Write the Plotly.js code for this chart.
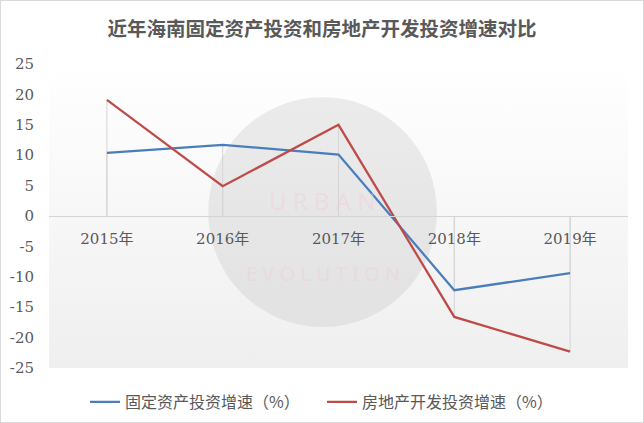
<!DOCTYPE html>
<html><head><meta charset="utf-8">
<script src="https://cdn.plot.ly/plotly-3.0.1.min.js"></script>
<style>
html,body{margin:0;padding:0;background:#fff;}
#wrap{position:relative;width:644px;height:423px;}
#chart{width:644px;height:423px;}
#frame{position:absolute;left:0;top:0;width:644px;height:423px;box-sizing:border-box;border:1px solid #d9d9d9;pointer-events:none;}
</style></head>
<body>
<div id="wrap"><div id="chart"></div><div id="frame"></div></div>
<script>
const categories = ['2015年','2016年','2017年','2018年','2019年'];
const fixedInvest = [10.4, 11.7, 10.1, -12.2, -9.4];
const realEstate = [19.1, 4.9, 15.0, -16.6, -22.3];
const seriesNames = ['固定资产投资增速（%）','房地产开发投资增速（%）'];
const yTicks = [-25,-20,-15,-10,-5,0,5,10,15,20,25];

const grad = 'data:image/svg+xml;utf8,' + encodeURIComponent(
 '<svg xmlns="http://www.w3.org/2000/svg" width="100" height="100" preserveAspectRatio="none">' +
 '<defs><linearGradient id="g" x1="0" y1="0" x2="0" y2="1">' +
 '<stop offset="0" stop-color="#ffffff"/><stop offset="1" stop-color="#efefef"/></linearGradient></defs>' +
 '<rect width="100" height="100" fill="url(#g)"/></svg>');

const shapes = [];
shapes.push({type:'circle', xref:'paper', yref:'paper', x0:0.275, x1:0.670, y0:0.135, y1:0.891,
  fillcolor:'rgba(175,175,175,0.22)', line:{width:0}, layer:'below'});
categories.forEach((c,i)=>{
  [fixedInvest[i], realEstate[i]].forEach(v=>{
    shapes.push({type:'line', xref:'x', yref:'y', x0:c, x1:c, y0:0, y1:v,
      line:{color:'#d4d4d4', width:1}, layer:'below'});
  });
});

const traces = [
 {x:categories, y:fixedInvest, name:seriesNames[0], type:'scatter', mode:'lines',
  line:{color:'#4a7ebb', width:2.25}},
 {x:categories, y:realEstate, name:seriesNames[1], type:'scatter', mode:'lines',
  line:{color:'#be4b48', width:2.25}}
];

const layout = {
  width:644, height:423,
  margin:{l:49, r:16, t:64, b:55},
  paper_bgcolor:'#ffffff', plot_bgcolor:'rgba(0,0,0,0)',
  title:{text:'近年海南固定资产投资和房地产开发投资增速对比', x:0.5, xanchor:'center',
    yref:'container', y:0.932, yanchor:'middle',
    font:{family:'Noto Sans CJK SC', size:19.5, color:'#595959', weight:'bold'}},
  xaxis:{type:'category', anchor:'free', position:0.5, showgrid:false, zeroline:false,
    showline:true, linecolor:'#d4d4d4', linewidth:1, ticks:'', ticklabelstandoff:9,
    range:[-0.5,4.5],
    tickfont:{family:'DejaVu Serif, Noto Sans CJK SC', size:15, color:'#595959'}},
  yaxis:{range:[-25,25], tickvals:yTicks, ticktext:yTicks.map(String), showgrid:false, zeroline:false,
    showline:false, ticks:'', ticklabelstandoff:14,
    tickfont:{family:'DejaVu Serif', size:15, color:'#595959'}},
  legend:{orientation:'h', x:0.5, xref:'container', xanchor:'center', yref:'container', y:0.05, yanchor:'middle',
    font:{family:'Noto Sans CJK SC', size:16, color:'#595959'}, entrywidth:192},
  images:[{source:grad, xref:'paper', yref:'paper', x:0, y:1, sizex:1, sizey:1,
    sizing:'stretch', layer:'below', xanchor:'left', yanchor:'top'}],
  shapes:shapes,
  annotations:[
    {xref:'paper', yref:'paper', x:0.473, y:0.55, text:'U R B A N', showarrow:false,
     font:{family:'Noto Sans', size:24, color:'rgba(245,200,215,0.4)'}},
    {xref:'paper', yref:'paper', x:0.473, y:0.26, text:'E V O L U T I O N', showarrow:false,
     font:{family:'Noto Sans', size:20, color:'rgba(245,200,215,0.4)'}}
  ]
};
Plotly.newPlot('chart', traces, layout, {displayModeBar:false, staticPlot:true});
</script>
</body></html>
